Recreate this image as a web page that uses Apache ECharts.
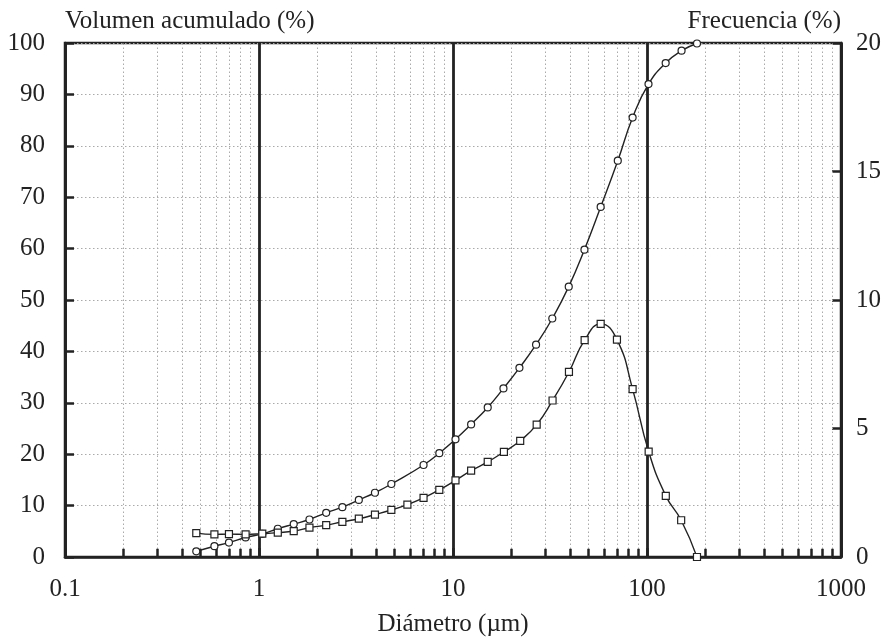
<!DOCTYPE html>
<html>
<head>
<meta charset="utf-8">
<script src="https://cdn.jsdelivr.net/npm/echarts@6/dist/echarts.min.js"></script>
<style>
html,body{margin:0;padding:0;background:#fff;}
#chart{width:887px;height:642px;}
</style>
</head>
<body>
<div id="chart"></div>
<script>
// Diameter (µm) of cumulative-volume points (circles)
const diamCum = [0.475,0.589,0.70,0.853,1.04,1.25,1.51,1.82,2.22,2.69,3.27,3.96,4.81,7.05,8.5,10.3,12.4,15.1,18.2,22.0,26.8,32.5,39.5,47.6,57.7,70.7,84.3,101.8,124.8,150.7,181];
const volCum = [1.1,2.1,2.8,3.8,4.5,5.5,6.4,7.3,8.6,9.7,11.1,12.5,14.2,17.9,20.2,22.9,25.8,29.1,32.8,36.8,41.3,46.4,52.6,59.8,68.1,77.1,85.5,92.0,96.1,98.5,99.9];
// Diameter (µm) of frequency points (squares)
const diamFreq = [0.475,0.589,0.70,0.853,1.04,1.25,1.51,1.82,2.22,2.69,3.27,3.96,4.81,5.82,7.05,8.5,10.3,12.4,15.1,18.3,22.2,27.0,32.6,39.6,47.7,57.7,70.0,84.3,102,125,150,181];
const freq = [0.93,0.88,0.89,0.88,0.91,0.95,1.01,1.14,1.24,1.37,1.49,1.65,1.83,2.04,2.30,2.61,2.98,3.36,3.70,4.09,4.52,5.15,6.09,7.20,8.44,9.07,8.46,6.53,4.10,2.38,1.43,0.0];
// minor log positions for dotted grid and bottom ticks
const minorX = [0.2,0.3,0.4,0.5,0.6,0.7,0.8,0.9,2,3,4,5,6,7,8,9,20,30,40,50,60,70,80,90,200,300,400,500,600,700,800,900];

const FONT = '"Liberation Serif", "Times New Roman", serif';
const chart = echarts.init(document.getElementById('chart'));

const gridLines = minorX.map(v => [{coord:[v,0]},{coord:[v,100]}]);
const tickLines = minorX.map(v => [{coord:[v,0]},{coord:[v,1.6]}]);

chart.setOption({
  animation:false,
  backgroundColor:'#fff',
  grid:{left:65,right:46,top:43,bottom:78,show:true,borderColor:'#222',borderWidth:2.5,backgroundColor:'transparent'},
  xAxis:{
    type:'log', logBase:10, min:0.1, max:1000,
    name:'Diámetro (µm)', nameLocation:'middle', nameGap:55,
    nameTextStyle:{fontFamily:FONT,fontSize:25,color:'#222'},
    axisLine:{show:true,lineStyle:{color:'#222',width:2.5}},
    axisTick:{show:true,inside:true,length:9,lineStyle:{color:'#222',width:2.5}},
    axisLabel:{fontFamily:FONT,fontSize:25,color:'#222',margin:20,
      formatter:v=>String(v)},
    splitLine:{show:true,lineStyle:{color:'#222',width:2.8}},
    minorTick:{show:false}
  },
  yAxis:[{
    type:'value', min:0, max:100, interval:10,
    name:'Volumen acumulado (%)', nameLocation:'end', nameGap:9,
    nameTextStyle:{fontFamily:FONT,fontSize:25,color:'#222',align:'left'},
    axisLine:{show:true,lineStyle:{color:'#222',width:2.5}},
    axisTick:{show:true,inside:true,length:9,lineStyle:{color:'#222',width:2.5}},
    axisLabel:{fontFamily:FONT,fontSize:25,color:'#222',margin:20},
    splitLine:{show:true,lineStyle:{color:'#aaa',width:1,type:[1.5,2.5]}}
  },{
    type:'value', min:0, max:20, interval:5, position:'right',
    name:'Frecuencia (%)', nameLocation:'end', nameGap:9,
    nameTextStyle:{fontFamily:FONT,fontSize:25,color:'#222',align:'right'},
    axisLine:{show:true,lineStyle:{color:'#222',width:2.5}},
    axisTick:{show:true,inside:true,length:9,lineStyle:{color:'#222',width:2.5}},
    axisLabel:{fontFamily:FONT,fontSize:25,color:'#222',margin:15},
    splitLine:{show:false}
  }],
  series:[{
    type:'line', name:'grid', data:[], xAxisIndex:0, yAxisIndex:0, silent:true,
    markLine:{silent:true,symbol:['none','none'],label:{show:false},animation:false,
      lineStyle:{color:'#aaa',width:1,type:[1.5,2.5]}, data:gridLines}, z:1
  },{
    type:'line', name:'ticks', data:[], xAxisIndex:0, yAxisIndex:0, silent:true,
    markLine:{silent:true,symbol:['none','none'],label:{show:false},animation:false,
      lineStyle:{color:'#222',width:2.5,type:'solid'}, data:tickLines}, z:3
  },{
    type:'line', name:'Volumen acumulado', xAxisIndex:0, yAxisIndex:0,
    data: diamCum.map((d,i)=>[d,volCum[i]]),
    smooth:0.5, symbol:'circle', symbolSize:7, showAllSymbol:true,
    lineStyle:{color:'#222',width:1.4},
    itemStyle:{color:'#fff',borderColor:'#222',borderWidth:1.2}, z:5
  },{
    type:'line', name:'Frecuencia', xAxisIndex:0, yAxisIndex:1,
    data: diamFreq.map((d,i)=>[d,freq[i]]),
    smooth:0.5, symbol:'rect', symbolSize:7, showAllSymbol:true,
    lineStyle:{color:'#222',width:1.4},
    itemStyle:{color:'#fff',borderColor:'#222',borderWidth:1.2}, z:5
  }]
});
</script>
</body>
</html>
